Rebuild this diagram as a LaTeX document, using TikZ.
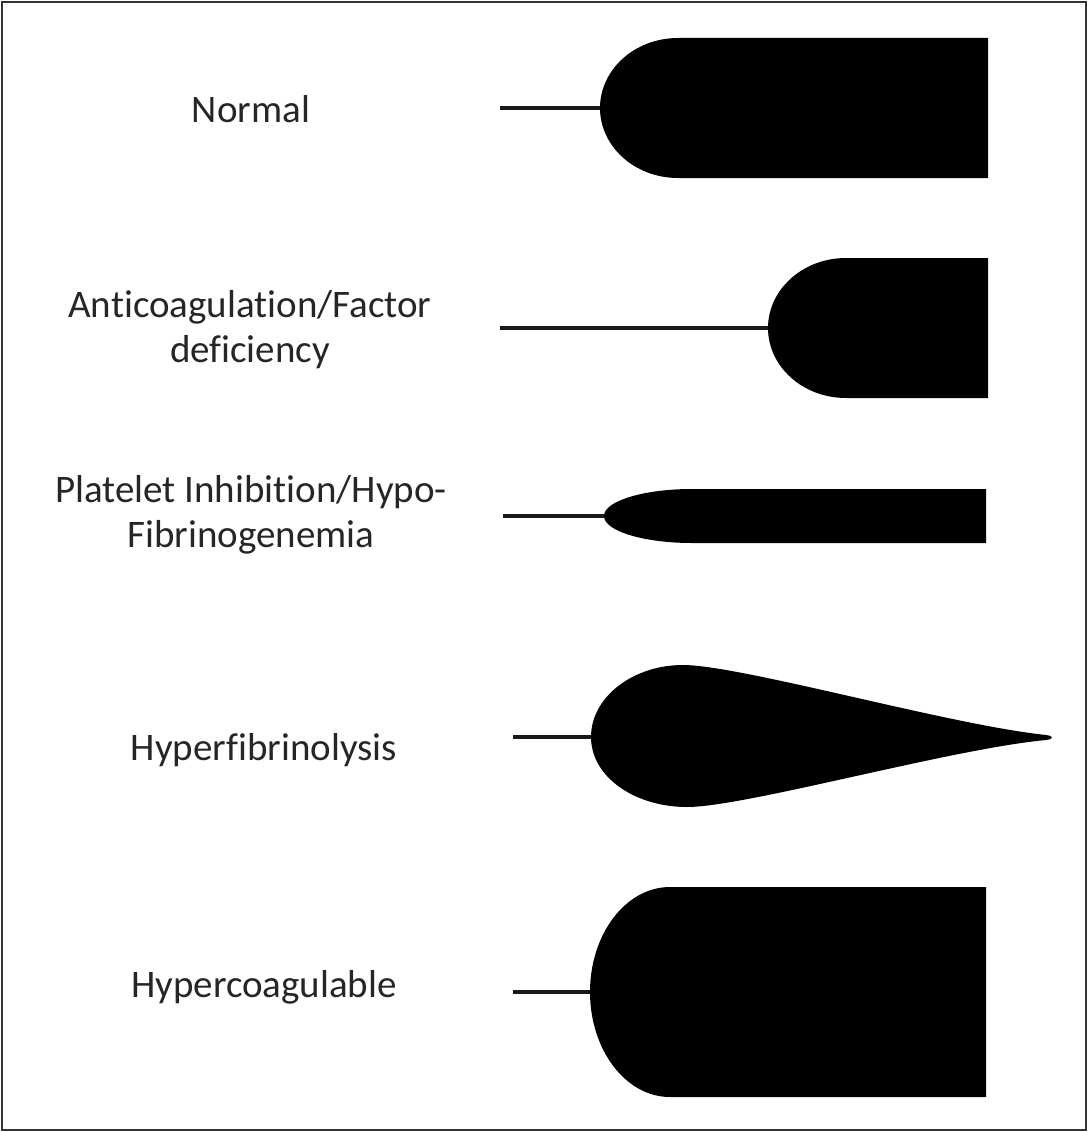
\documentclass[tikz,border=0pt]{standalone}
\usepackage{fontspec}
\setmainfont[Ligatures=NoCommon]{Carlito}
\usepackage{tikz}
\usetikzlibrary{calc}
\tikzset{
  lbl/.style={font=\fontsize{39}{45}\selectfont,align=center,text=black!85,inner sep=0pt},
  stem/.style={line width=4pt,black!90},
  clot/.style={fill=black,draw=none},
}
\begin{document}
\begin{tikzpicture}[x=1pt,y=-1pt]
\useasboundingbox (0,0) rectangle (1088,1132);
\draw[line width=2.5pt,black!80] (2,2) rectangle (1086,1130);
% labels
\node[lbl,anchor=base] (lnorm) at (251,122) {Normal};
\node[lbl] (lanti) at (250,330) {Anticoagulation/Factor\\deficiency};
\node[lbl] (lplat) at (251,515) {Platelet Inhibition/Hypo-\\Fibrinogenemia};
\node[lbl,anchor=base] (lfib) at (264,760) {Hyperfibrinolysis};
\node[lbl,anchor=base] (lhyp) at (264,997) {Hypercoagulable};
% rounded clots: name/stem start/left/centre y/rx/ry/right
\foreach \nm/\sx/\lx/\cy/\rx/\ry/\ex in {norm/500/600/108/78/70/988,anti/500/768/328/78/70/988,plat/503/604/516/88/27/986,hyp/513/590/992/80/105/986} {
  \pgfmathsetmacro\kx{\rx*0.552} \pgfmathsetmacro\ky{\ry*0.552}
  \fill[clot] (\ex,{\cy-\ry}) -- ({\lx+\rx},{\cy-\ry}) .. controls ({\lx+\rx-\kx},{\cy-\ry}) and (\lx,{\cy-\ky}) .. (\lx,\cy)
    .. controls (\lx,{\cy+\ky}) and ({\lx+\rx-\kx},{\cy+\ry}) .. ({\lx+\rx},{\cy+\ry}) -- (\ex,{\cy+\ry}) -- cycle;
  \coordinate (s\nm) at (\sx,\cy); \coordinate (t\nm) at (\lx,\cy);
  \draw[stem] (s\nm) -- (t\nm);
}
% teardrop
\fill[clot] (591,737) .. controls (591,697) and (633,665) .. (683,665) .. controls (740,665) and (950,725) .. (1046,735)
  .. controls (1054,736) and (1054,739) .. (1046,740) .. controls (950,749) and (745,807) .. (687,807)
  .. controls (635,807) and (591,777) .. (591,737) -- cycle;
\coordinate (sfib) at (513,737); \coordinate (tfib) at (591,737);
\draw[stem] (sfib) -- (tfib);
\end{tikzpicture}
\end{document}
